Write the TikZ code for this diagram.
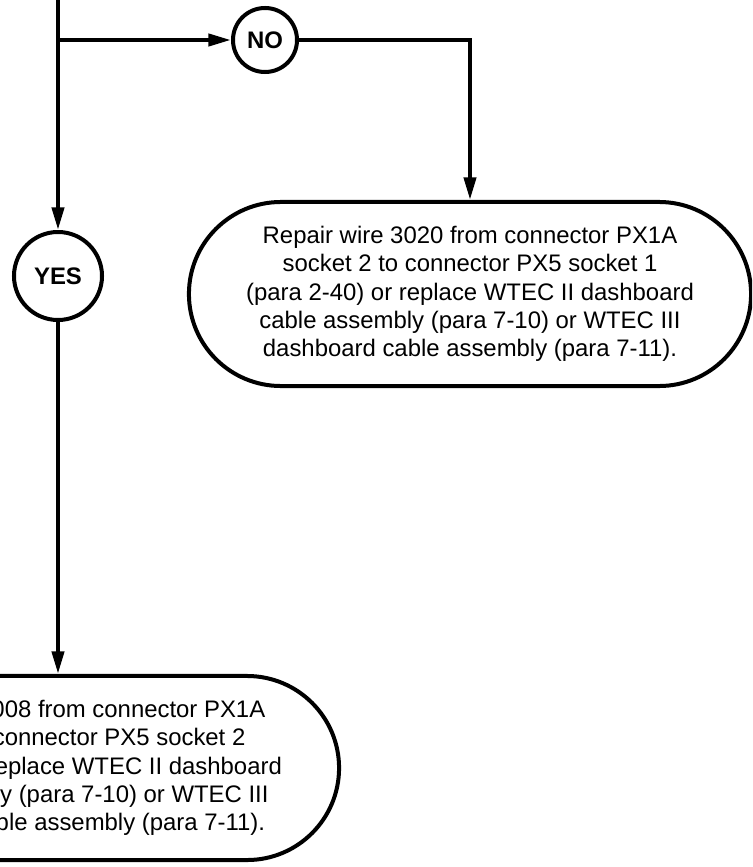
\documentclass[tikz,border=0pt]{standalone}
\usepackage{fontspec}
\setmainfont{Liberation Sans}
\usetikzlibrary{arrows.meta}

\begin{document}
\begin{tikzpicture}[
    x=0.025cm, y=-0.025cm,
    % Style definitions
    answer/.style={
        circle, draw=black, line width=1mm, fill=white,
        minimum size=1.6cm, inner sep=0pt,
        font=\fontsize{17pt}{20pt}\selectfont\bfseries
    },
    action/.style={
        rectangle, draw=black, line width=1mm, fill=white,
        rounded corners=2.3cm,
        minimum width=14.05cm, minimum height=4.6cm,
        font=\fontsize{17pt}{20.1pt}\selectfont, align=center
    },
    flowline/.style={
        -{Triangle[length=16pt, width=8.5pt]}, line width=1mm
    },
]

% Column positions
\def\colMain{58}
\def\colNo{265}
\def\colRight{470}

% Row positions (top to bottom)
\def\rowSplit{40}
\def\rowYes{276}
\def\rowFixA{294}
\def\rowFixB{768}

% === Page frame ===
\useasboundingbox (0,0) rectangle (752,867);
\clip (0,0) rectangle (752,867);

% === Decision answers ===
\coordinate (top) at (\colMain, -20);
\coordinate (split) at (\colMain, \rowSplit);
\node[answer] (no) at (\colNo, \rowSplit) {NO};
\coordinate (bend) at (\colRight, \rowSplit);
\node[answer, minimum size=2.2cm] (yes) at (\colMain, \rowYes) {YES};

% === Repair actions ===
\node[action] (fixA) at (\colRight, \rowFixA) {Repair wire 3020 from connector PX1A\\socket 2 to connector PX5 socket 1\\(para 2-40) or replace WTEC II dashboard\\cable assembly (para 7-10) or WTEC III\\dashboard cable assembly (para 7-11).};
\node[action] (fixB) at (\colMain, \rowFixB) {Repair wire 3008 from connector PX1A\\socket 1 to connector PX5 socket 2\\(para 2-40) or replace WTEC II dashboard\\cable assembly (para 7-10) or WTEC III\\dashboard cable assembly (para 7-11).};

% === Flow lines ===
\draw[flowline] (top) -- (split) -- (yes);
\draw[flowline] (split) -- (no);
\draw[flowline] (no) -- (bend) -- (fixA);
\draw[flowline] (yes) -- (fixB);

\end{tikzpicture}
\end{document}
